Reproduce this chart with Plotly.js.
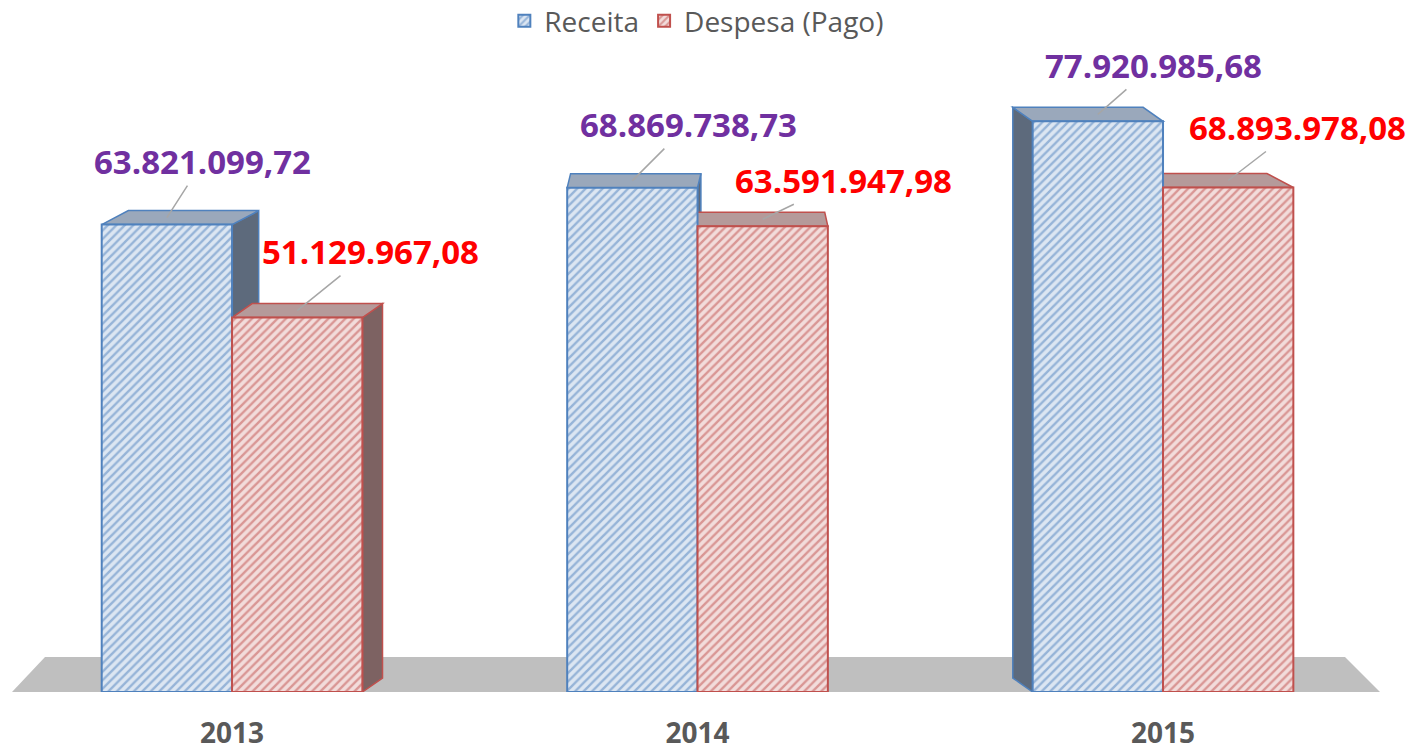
<!DOCTYPE html>
<html>
<head>
<meta charset="utf-8">
<script src="https://cdn.plot.ly/plotly-3.0.1.min.js"></script>
<style>html,body{margin:0;padding:0;background:#fff;}#chart{width:1416px;height:754px;}</style>
</head>
<body>
<div id="chart"></div>
<script>
// ---- data ----
const years = ['2013', '2014', '2015'];
const receita = [63821099.72, 68869738.73, 77920985.68];
const despesa = [51129967.08, 63591947.98, 68893978.08];
const seriesNames = ['Receita', 'Despesa (Pago)'];

// ---- helpers ----
function fmtBR(v) {
  const parts = v.toFixed(2).split('.');
  const intPart = parts[0].replace(/\B(?=(\d{3})+(?!\d))/g, '.');
  return intPart + ',' + parts[1];
}

const W = 1416, H = 754;
const margin = {l: 10, r: 10, t: 60, b: 62, autoexpand: false};
const plotW = W - margin.l - margin.r;
const plotH = H - margin.t - margin.b;
const xRange = [-0.477, 2.522];
const yMax = 86.3e6;
const pxPerX = plotW / (xRange[1] - xRange[0]);
const pxPerY = plotH / yMax;
const bargap = 0.44;
const barW = (1 - bargap) / 2;

const blue = '#4f81bd', red = '#c0504d';

const traces = [
  {
    type: 'bar', name: seriesNames[0], x: years, y: receita,
    marker: {
      color: '#dce6f2',
      pattern: {shape: '/', fgcolor: blue, bgcolor: '#dce6f2', size: 6, solidity: 0.4, fillmode: 'overlay'},
      line: {color: blue, width: 2}
    },
    hoverinfo: 'skip'
  },
  {
    type: 'bar', name: seriesNames[1], x: years, y: despesa,
    marker: {
      color: '#f2dcdb',
      pattern: {shape: '/', fgcolor: red, bgcolor: '#f2dcdb', size: 6, solidity: 0.4, fillmode: 'overlay'},
      line: {color: red, width: 2}
    },
    hoverinfo: 'skip'
  }
];

// ---- decorations: floor and pseudo-3D faces ----
const shapes = [];
function px2paperX(p) { return (p - margin.l) / plotW; }
function px2paperY(p) { return (H - margin.b - p) / plotH; }
// floor (gray slab)
shapes.push({
  type: 'path', xref: 'paper', yref: 'paper', layer: 'below',
  path: 'M ' + px2paperX(12) + ' ' + px2paperY(692) +
        ' L ' + px2paperX(1380) + ' ' + px2paperY(692) +
        ' L ' + px2paperX(1345) + ' ' + px2paperY(657) +
        ' L ' + px2paperX(45) + ' ' + px2paperY(657) + ' Z',
  fillcolor: '#bfbfbf', line: {width: 0}
});

const vanishPx = 700;
const depthPx = 14;
function xToPx(x) { return margin.l + (x - xRange[0]) * pxPerX; }
function faceSet(values, offset, topColor, sideColor, edge) {
  values.forEach((v, i) => {
    const x0 = i + offset - barW / 2, x1 = i + offset + barW / 2;
    const cpx = xToPx(i + offset);
    const dxPx = (vanishPx - cpx) * 0.05;
    const dx = dxPx / pxPerX;
    const dv = depthPx / pxPerY;
    // side face
    const sx = dx > 0 ? x1 : x0;
    shapes.push({
      type: 'path', xref: 'x', yref: 'y', layer: 'below',
      path: `M ${sx} 0 L ${sx} ${v} L ${sx + dx} ${v + dv} L ${sx + dx} ${dv} Z`,
      fillcolor: sideColor, line: {color: edge, width: 1.5}
    });
    // top face
    shapes.push({
      type: 'path', xref: 'x', yref: 'y', layer: 'below',
      path: `M ${x0} ${v} L ${x1} ${v} L ${x1 + dx} ${v + dv} L ${x0 + dx} ${v + dv} Z`,
      fillcolor: topColor, line: {color: edge, width: 1.5}
    });
  });
}
const off = barW / 2;
faceSet(receita, -off, '#9aa8bb', '#5d6a7c', blue);
faceSet(despesa, off, '#b59a9a', '#7d6262', red);

// ---- value labels ----
const rAx = [36, 56, 56], rAy = [-56, -56, -49];
const dAx = [73, 81, 69], dAy = [-59, -39, -53];
const annotations = [];
receita.forEach((v, i) => annotations.push({
  x: i - off, y: v + (depthPx / 2) / pxPerY, xref: 'x', yref: 'y',
  text: '<b>' + fmtBR(v) + '</b>', showarrow: true, arrowhead: 0, arrowwidth: 1.5,
  arrowcolor: '#a6a6a6', ax: rAx[i], ay: rAy[i],
  font: {family: 'Open Sans', size: 33, color: '#7030a0'}
}));
despesa.forEach((v, i) => annotations.push({
  x: i + off, y: v + (depthPx / 2) / pxPerY, xref: 'x', yref: 'y',
  text: '<b>' + fmtBR(v) + '</b>', showarrow: true, arrowhead: 0, arrowwidth: 1.5,
  arrowcolor: '#a6a6a6', ax: dAx[i], ay: dAy[i],
  font: {family: 'Open Sans', size: 33, color: '#ff0000'}
}));

const layout = {
  width: W, height: H, margin: margin,
  paper_bgcolor: '#ffffff', plot_bgcolor: 'rgba(0,0,0,0)',
  barmode: 'group', bargap: bargap, bargroupgap: 0,
  showlegend: true,
  legend: {
    orientation: 'h', x: 0.492, xanchor: 'center', y: px2paperY(21), yanchor: 'middle',
    font: {family: 'Open Sans', size: 28, color: '#595959'}, itemwidth: 30
  },
  xaxis: {
    type: 'category', range: xRange, showgrid: false, zeroline: false, showline: false,
    ticks: '', ticklabelstandoff: 22, automargin: false,
    tickfont: {family: 'Open Sans', size: 28, color: '#595959', weight: 'bold'}
  },
  yaxis: {
    range: [0, yMax], visible: false, showgrid: false, zeroline: false, automargin: false
  },
  shapes: shapes,
  annotations: annotations,
  font: {family: 'Open Sans'}
};

Plotly.newPlot('chart', traces, layout, {displayModeBar: false, staticPlot: true});
</script>
</body>
</html>
